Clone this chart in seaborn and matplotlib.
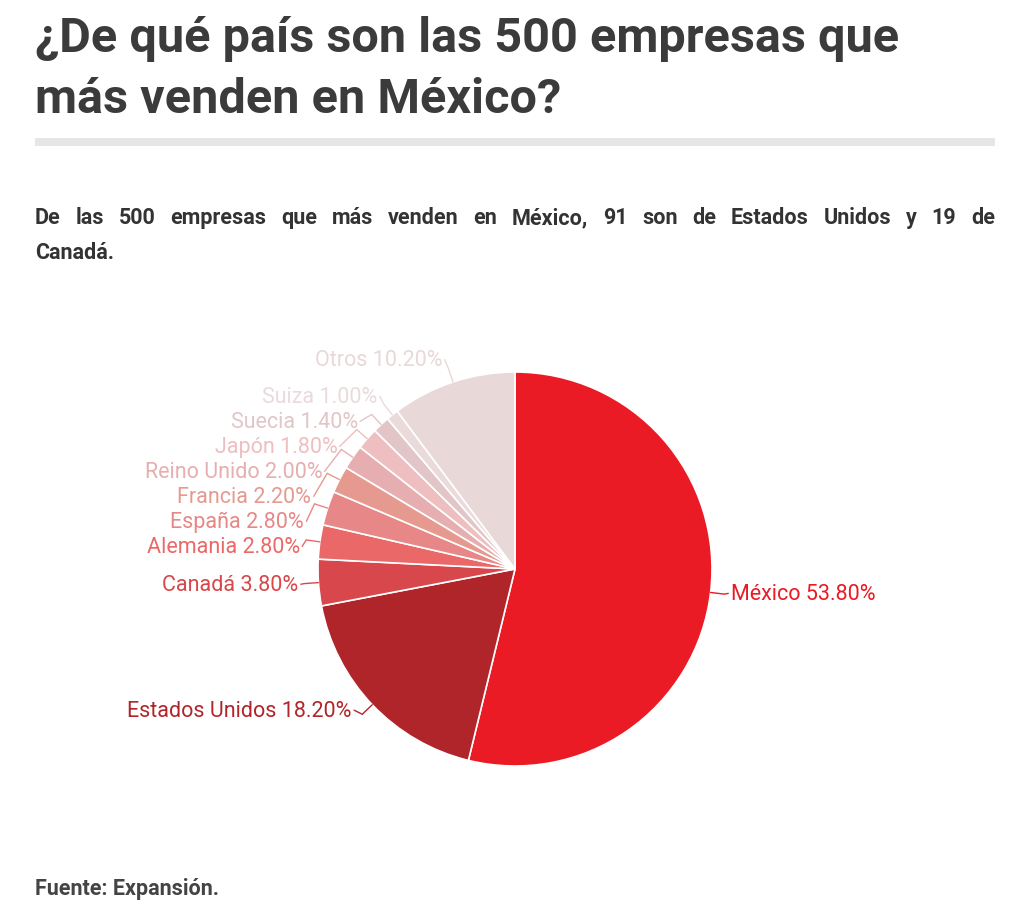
import numpy as np
import matplotlib
matplotlib.use("Agg")
import matplotlib.pyplot as plt
import seaborn as sns

sns.set_theme(style="white")
plt.rcParams['font.family'] = ['Roboto', 'DejaVu Sans']

# Data
countries = ["México", "Estados Unidos", "Canadá", "Alemania", "España", "Francia",
             "Reino Unido", "Japón", "Suecia", "Suiza", "Otros"]
shares = [53.8, 18.2, 3.8, 2.8, 2.8, 2.2, 2.0, 1.8, 1.4, 1.0, 10.2]
colors = ["#EA1B24", "#B0252A", "#D7474B", "#EB6868", "#E78787", "#E69A8F",
          "#E6AEB0", "#EFBEC1", "#E2C6C7", "#EBDADB", "#E9D8D8"]

title_lines = ["¿De qué país son las 500 empresas que", "más venden en México?"]
subtitle_line1 = "De las 500 empresas que más venden en México, 91 son de Estados Unidos y 19 de"
subtitle_line2 = "Canadá."
source = "Fuente: Expansión."

W, H = 1024, 920
fig = plt.figure(figsize=(W / 100, H / 100), dpi=100)
fig.patch.set_facecolor("white")


def px(x, y):
    return x / W, 1 - y / H


# title
for i, line in enumerate(title_lines):
    fig.text(*px(35, 52 + 61 * i), line, fontsize=35, fontweight="bold",
             color="#3b3b3b", ha="left", va="baseline")

# grey rule
fig.add_artist(plt.Rectangle(px(35, 147), 960 / W, 8 / H, transform=fig.transFigure,
                             color="#e6e6e6", lw=0))

# justified subtitle first line
renderer = fig.canvas.get_renderer()
words = subtitle_line1.split(" ")
sub_kw = dict(fontsize=15.5, fontweight="bold", color="#333333", va="baseline")
widths = []
for w in words:
    t = fig.text(0, 0, w, **sub_kw)
    widths.append(t.get_window_extent(renderer).width)
    t.remove()
gap = (960 - sum(widths)) / (len(words) - 1)
x = 35
for w, wd in zip(words, widths):
    fig.text(*px(x, 224), w, ha="left", **sub_kw)
    x += wd + gap
fig.text(*px(35, 259), subtitle_line2, ha="left", **sub_kw)

# source
fig.text(*px(35, 895), source, fontsize=15.5, fontweight="bold", color="#444444",
         ha="left", va="baseline")

# pie axes: centre (515, 570), radius 197 px
cx, cy, R = 515, 570, 197
half = 330
ax = fig.add_axes([(cx - half) / W, 1 - (cy + half) / H, 2 * half / W, 2 * half / H])

wedges, _ = ax.pie(shares, colors=colors, startangle=90, counterclock=False, radius=1,
                   wedgeprops=dict(edgecolor="white", linewidth=1.2))
lim = half / R
ax.set_xlim(-lim, lim)
ax.set_ylim(-lim, lim)
ax.set_aspect("equal")
ax.axis("off")

# label layout
mids = [np.deg2rad((wdg.theta1 + wdg.theta2) / 2) for wdg in wedges]

Rl = 214 / R
step = 25 / R
ypos = {i: (1.04 if shares[i] > 15 else 1.12) * np.sin(a) for i, a in enumerate(mids)}

# left side: labels from top to bottom, keep spacing
left = [i for i, a in enumerate(mids) if np.cos(a) < 0 and shares[i] < 15]
left.sort(key=lambda i: -ypos[i])
prev = None
for i in left:
    if prev is not None and ypos[i] > prev - step:
        ypos[i] = prev - step
    prev = ypos[i]

for i, ang in enumerate(mids):
    side = 1 if np.cos(ang) >= 0 else -1
    yl = ypos[i]
    ex, ey = np.cos(ang), np.sin(ang)
    kx, ky = 1.07 * ex, 1.07 * ey
    xl = side * max(np.sqrt(max(Rl ** 2 - yl ** 2, 0.0)), abs(kx) + 0.02)
    ax.plot([ex, kx, xl], [ey, ky, yl], color=colors[i], lw=1, clip_on=False,
            solid_joinstyle="miter")
    ax.text(xl + side * 0.012, yl, f"{countries[i]} {shares[i]:.2f}%",
            ha="left" if side > 0 else "right", va="center", fontsize=15.5,
            color=colors[i], clip_on=False)

fig.savefig("out.png", dpi=100, facecolor="white")
